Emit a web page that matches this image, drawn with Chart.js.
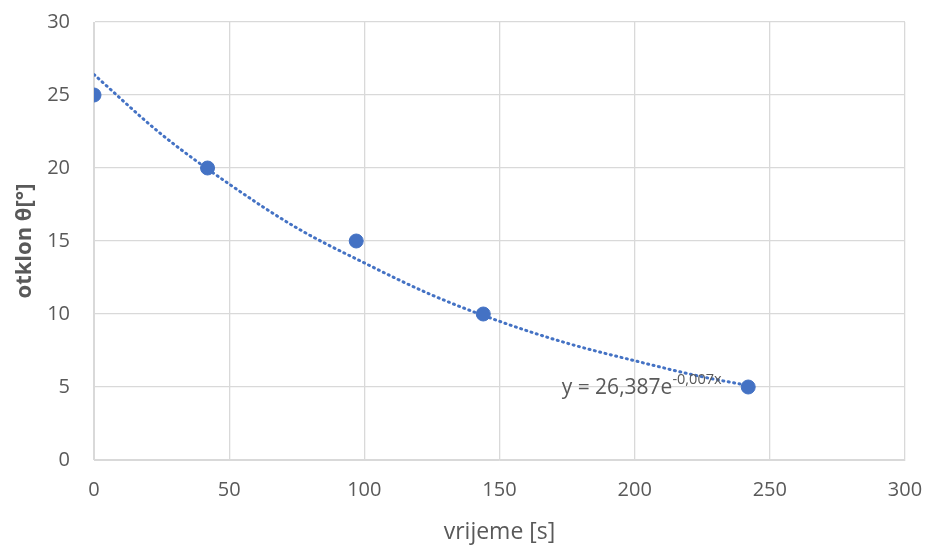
<!DOCTYPE html>
<html>
<head>
<meta charset="utf-8">
<script src="https://cdn.jsdelivr.net/npm/chart.js@4/dist/chart.umd.min.js"></script>
<style>
  html, body { margin: 0; padding: 0; background: #fff; }
  #wrap { width: 925px; height: 546px; }
</style>
</head>
<body>
<div id="wrap"><canvas id="myChart" width="925" height="546"></canvas></div>
<script>
// measured points
const times = [0, 42, 97, 144, 242];
const angles = [25, 20, 15, 10, 5];
// trendline
const trendX = [0, 25, 50, 75, 100, 125, 150, 175, 200, 225, 242];
const trendY = [26.4, 22.3, 18.9, 15.9, 13.5, 11.3, 9.5, 8.0, 6.8, 5.7, 5.1];
const xTicks = [0, 50, 100, 150, 200, 250, 300];
const yTicks = [0, 5, 10, 15, 20, 25, 30];
const eqMain = 'y = 26,387e';
const eqExp = '-0,007x';

const blue = '#4472C4';
const grey = '#595959';
const font = "'Open Sans', 'Liberation Sans', sans-serif";

const eqLabel = {
  id: 'eqLabel',
  afterDatasetsDraw(chart) {
    const c = chart.ctx, xs = chart.scales.x, ys = chart.scales.y;
    const px = xs.getPixelForValue(173), py = ys.getPixelForValue(4.93);
    c.save();
    c.fillStyle = grey;
    c.textBaseline = 'middle';
    c.font = '21px ' + font;
    c.fillText(eqMain, px, py);
    const w = c.measureText(eqMain).width;
    c.font = '14.5px ' + font;
    c.fillText(eqExp, px + w, py - 8);
    c.restore();
  }
};

const ctx = document.getElementById('myChart').getContext('2d');
const myChart = new Chart(ctx, {
  type: 'scatter',
  data: {
    datasets: [{
      data: times.map((t, i) => ({x: t, y: angles[i]})),
      backgroundColor: blue,
      borderColor: blue,
      pointRadius: 7,
      order: 1
    }, {
      data: trendX.map((t, i) => ({x: t, y: trendY[i]})),
      showLine: true,
      borderColor: blue,
      borderWidth: 3,
      borderDash: [1, 4.5],
      borderCapStyle: 'round',
      cubicInterpolationMode: 'monotone',
      pointRadius: 0,
      order: 2
    }]
  },
  options: {
    responsive: false,
    animation: false,
    layout: { padding: { top: 22, right: 20, left: 0, bottom: 0 } },
    plugins: { legend: { display: false }, tooltip: { enabled: false } },
    scales: {
      x: {
        type: 'linear', min: 0, max: 300,
        afterBuildTicks: s => { s.ticks = xTicks.map(v => ({value: v})); },
        afterFit: s => { s.height = 86; s.paddingLeft = 0; s.paddingRight = 0; },
        grid: { color: '#d9d9d9', lineWidth: 1.3, drawTicks: false },
        border: { color: '#d9d9d9' },
        ticks: { color: grey, font: { family: font, size: 20 }, padding: 18, maxRotation: 0 },
        title: { display: true, text: 'vrijeme [s]', color: grey,
                 font: { family: font, size: 23 }, padding: { top: 0, bottom: 0 } }
      },
      y: {
        min: 0, max: 30,
        afterBuildTicks: s => { s.ticks = yTicks.map(v => ({value: v})); },
        afterFit: s => { s.width = 94; s.paddingTop = 0; s.paddingBottom = 0; },
        grid: { color: '#d9d9d9', lineWidth: 1.3, drawTicks: false },
        border: { color: '#d9d9d9' },
        ticks: { color: grey, font: { family: font, size: 20 }, padding: 24 },
        title: { display: true, text: 'otklon θ[°]', color: grey,
                 font: { family: font, size: 22, weight: 'bold' }, padding: { top: 12, bottom: 0 } }
      }
    }
  },
  plugins: [eqLabel]
});
</script>
</body>
</html>
